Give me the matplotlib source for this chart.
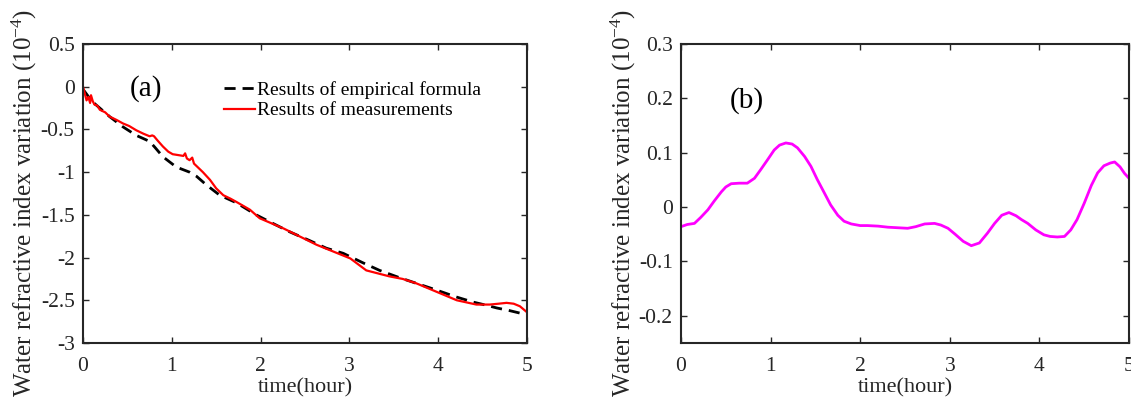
import matplotlib.pyplot as plt

plt.rcParams['font.family'] = ['Liberation Serif', 'DejaVu Serif']
plt.rcParams['mathtext.fontset'] = 'custom'
plt.rcParams['mathtext.rm'] = 'Liberation Serif'
plt.rcParams['mathtext.it'] = 'Liberation Serif:italic'

# panel (a): empirical formula vs measurement
t_emp = [0.0, 0.1, 0.2, 0.3, 0.45, 0.6, 0.75, 0.81, 0.9, 1.05, 1.2, 1.28, 1.39, 1.54,
         1.73, 1.95, 2.1, 2.33, 2.55, 2.74, 2.93, 3.15, 3.34, 3.55, 3.75, 3.98, 4.2,
         4.39, 4.55, 4.66, 4.8, 4.92, 5.0]
v_emp = [-0.03, -0.17, -0.26, -0.35, -0.47, -0.57, -0.64, -0.71, -0.82, -0.94, -1.0,
         -1.05, -1.15, -1.27, -1.36, -1.5, -1.58, -1.7, -1.8, -1.89, -1.95, -2.06, -2.15,
         -2.23, -2.3, -2.38, -2.46, -2.52, -2.56, -2.59, -2.62, -2.65, -2.67]

t_meas = [0.0, 0.02, 0.04, 0.06, 0.08, 0.09, 0.11, 0.13, 0.16, 0.19, 0.25, 0.3, 0.38,
          0.45, 0.52, 0.6, 0.68, 0.75, 0.78, 0.8, 0.84, 0.9, 0.96, 1.01, 1.07, 1.13,
          1.15, 1.17, 1.2, 1.23, 1.25, 1.28, 1.35, 1.43, 1.5, 1.58, 1.66, 1.73, 1.88,
          1.99, 2.26, 2.63, 3.01, 3.19, 3.45, 3.6, 3.75, 3.98, 4.21, 4.43, 4.58, 4.68,
          4.77, 4.85, 4.92, 5.0]
v_meas = [0.0, -0.08, -0.16, -0.12, -0.19, -0.1, -0.17, -0.21, -0.22, -0.27, -0.3,
          -0.35, -0.39, -0.43, -0.46, -0.51, -0.55, -0.58, -0.57, -0.58, -0.63, -0.7,
          -0.76, -0.79, -0.8, -0.81, -0.78, -0.84, -0.86, -0.83, -0.9, -0.93, -1.0,
          -1.09, -1.19, -1.27, -1.31, -1.35, -1.44, -1.54, -1.66, -1.85, -2.01, -2.15,
          -2.22, -2.25, -2.3, -2.4, -2.5, -2.55, -2.55, -2.54, -2.53, -2.54, -2.57, -2.64]

# panel (b): difference
t_diff = [0.0, 0.07, 0.15, 0.22, 0.3, 0.37, 0.45, 0.5, 0.56, 0.65, 0.74, 0.82, 0.89,
          0.97, 1.04, 1.1, 1.17, 1.24, 1.3, 1.38, 1.45, 1.52, 1.6, 1.67, 1.75, 1.82,
          1.9, 2.0, 2.08, 2.2, 2.31, 2.42, 2.53, 2.62, 2.72, 2.83, 2.9, 2.98, 3.06,
          3.15, 3.24, 3.33, 3.42, 3.5, 3.58, 3.66, 3.74, 3.8, 3.87, 3.96, 4.05, 4.12,
          4.2, 4.28, 4.35, 4.42, 4.5, 4.58, 4.65, 4.72, 4.79, 4.84, 4.9, 4.95, 5.0]
v_diff = [-0.036, -0.032, -0.030, -0.019, -0.005, 0.011, 0.028, 0.037, 0.043, 0.044,
          0.044, 0.053, 0.069, 0.088, 0.105, 0.114, 0.118, 0.116, 0.109, 0.093, 0.075,
          0.051, 0.026, 0.004, -0.015, -0.026, -0.031, -0.034, -0.034, -0.035, -0.037,
          -0.038, -0.039, -0.036, -0.031, -0.030, -0.033, -0.039, -0.050, -0.063,
          -0.071, -0.066, -0.048, -0.030, -0.015, -0.010, -0.016, -0.023, -0.030,
          -0.042, -0.051, -0.054, -0.055, -0.054, -0.042, -0.023, 0.007, 0.040, 0.063,
          0.076, 0.081, 0.083, 0.074, 0.062, 0.053]

xticks = [0, 1, 2, 3, 4, 5]
yticks_a = [-3, -2.5, -2, -1.5, -1, -0.5, 0, 0.5]
yticks_b = [-0.2, -0.1, 0, 0.1, 0.2, 0.3]

ylabel = 'Water refractive index variation (10$^{-4}$)'
dark = '#262626'


def style(ax, yticks, ylim):
    ax.set_xlim(0, 5)
    ax.set_ylim(*ylim)
    ax.set_xticks(xticks)
    ax.set_xticklabels(['%g' % x for x in xticks])
    ax.set_yticks(yticks)
    ax.set_yticklabels(['%g' % y for y in yticks])
    ax.tick_params(direction='in', top=True, right=True, length=4.5, width=1.0,
                   labelsize=15.5, color=dark, labelcolor=dark, pad=6)
    ax.tick_params(axis='x', pad=10)
    for sp in ax.spines.values():
        sp.set_linewidth(1.5)
        sp.set_color(dark)
    ax.set_xlabel('time(hour)', fontsize=16, color=dark, labelpad=2)
    ax.set_ylabel(ylabel, fontsize=18, color=dark)
    ax.yaxis.set_label_coords(-0.098, 0.467)


fig = plt.figure(figsize=(11.31, 4.01), dpi=100)
ax1 = fig.add_axes([83 / 1131, 58 / 401, 444 / 1131, 299 / 401])
ax2 = fig.add_axes([681 / 1131, 58 / 401, 448 / 1131, 299 / 401])

ax1.plot(t_emp, v_emp, color='black', linestyle=(0, (4, 2.5)), linewidth=2,
         label='Results of empirical formula')
ax1.plot(t_meas, v_meas, color='red', linewidth=1.6, label='Results of measurements')
style(ax1, yticks_a, (-3, 0.5))
ax1.text(0.105, 0.85, '(a)', fontsize=21, ha='left', va='center',
         transform=ax1.transAxes)
leg = ax1.legend(loc='upper left', bbox_to_anchor=(0.318, 0.876), frameon=False,
                 fontsize=14, handlelength=1.6, handletextpad=0.1, labelspacing=0.15,
                 borderaxespad=0, borderpad=0)

ax2.plot(t_diff, v_diff, color='magenta', linewidth=2)
style(ax2, yticks_b, (-0.25, 0.3))
ax2.yaxis.set_label_coords(-0.097, 0.467)
ax2.text(0.108, 0.81, '(b)', fontsize=21, ha='left', va='center',
         transform=ax2.transAxes)

fig.savefig('out.png', dpi=100)
